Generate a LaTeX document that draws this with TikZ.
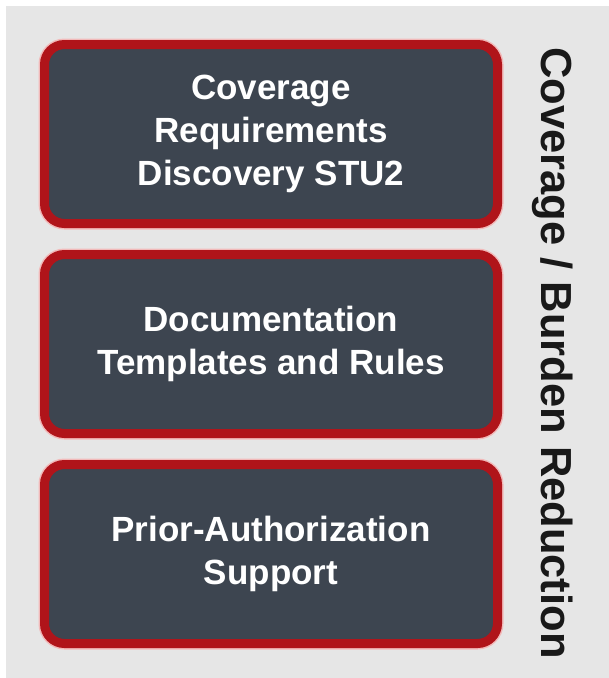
\documentclass[tikz,border=0pt]{standalone}
\usepackage{fontspec}
\setmainfont{Liberation Sans}
\usetikzlibrary{positioning}

\definecolor{panelgray}{HTML}{E6E6E6}
\definecolor{slate}{HTML}{3D4550}
\definecolor{boxred}{HTML}{B0141A}
\definecolor{halopink}{HTML}{F2B9B9}

\begin{document}
\begin{tikzpicture}
[x=1pt,y=-1pt,
blockbox/.style={
draw=boxred, line width=9pt, fill=slate,
preaction={draw=halopink, line width=12pt},
rounded corners=20pt,
minimum width=453pt, minimum height=179pt,
text=white, align=center,
font=\fontsize{35}{43}\selectfont\bfseries},
sidelabel/.style={
rotate=-90, anchor=base west, inner sep=0pt,
text=black!90, font=\fontsize{43.5}{50}\selectfont\bfseries}]
  \useasboundingbox (0,0) rectangle (609,678);
  \fill [white] (0,0) rectangle (609,678);
  \fill [panelgray] (6,6) rectangle (609,678);
  \node [blockbox] (crd) at (271,134) {Coverage\\Requirements\\Discovery STU2};
  \node [blockbox] (dtr) at (271,344) {Documentation\\Templates and Rules};
  \node [blockbox] (pas) at (271,554) {Prior-Authorization\\Support};
  \node [sidelabel] (burden) at (541,47) {Coverage / Burden Reduction};
\end{tikzpicture}
\end{document}
